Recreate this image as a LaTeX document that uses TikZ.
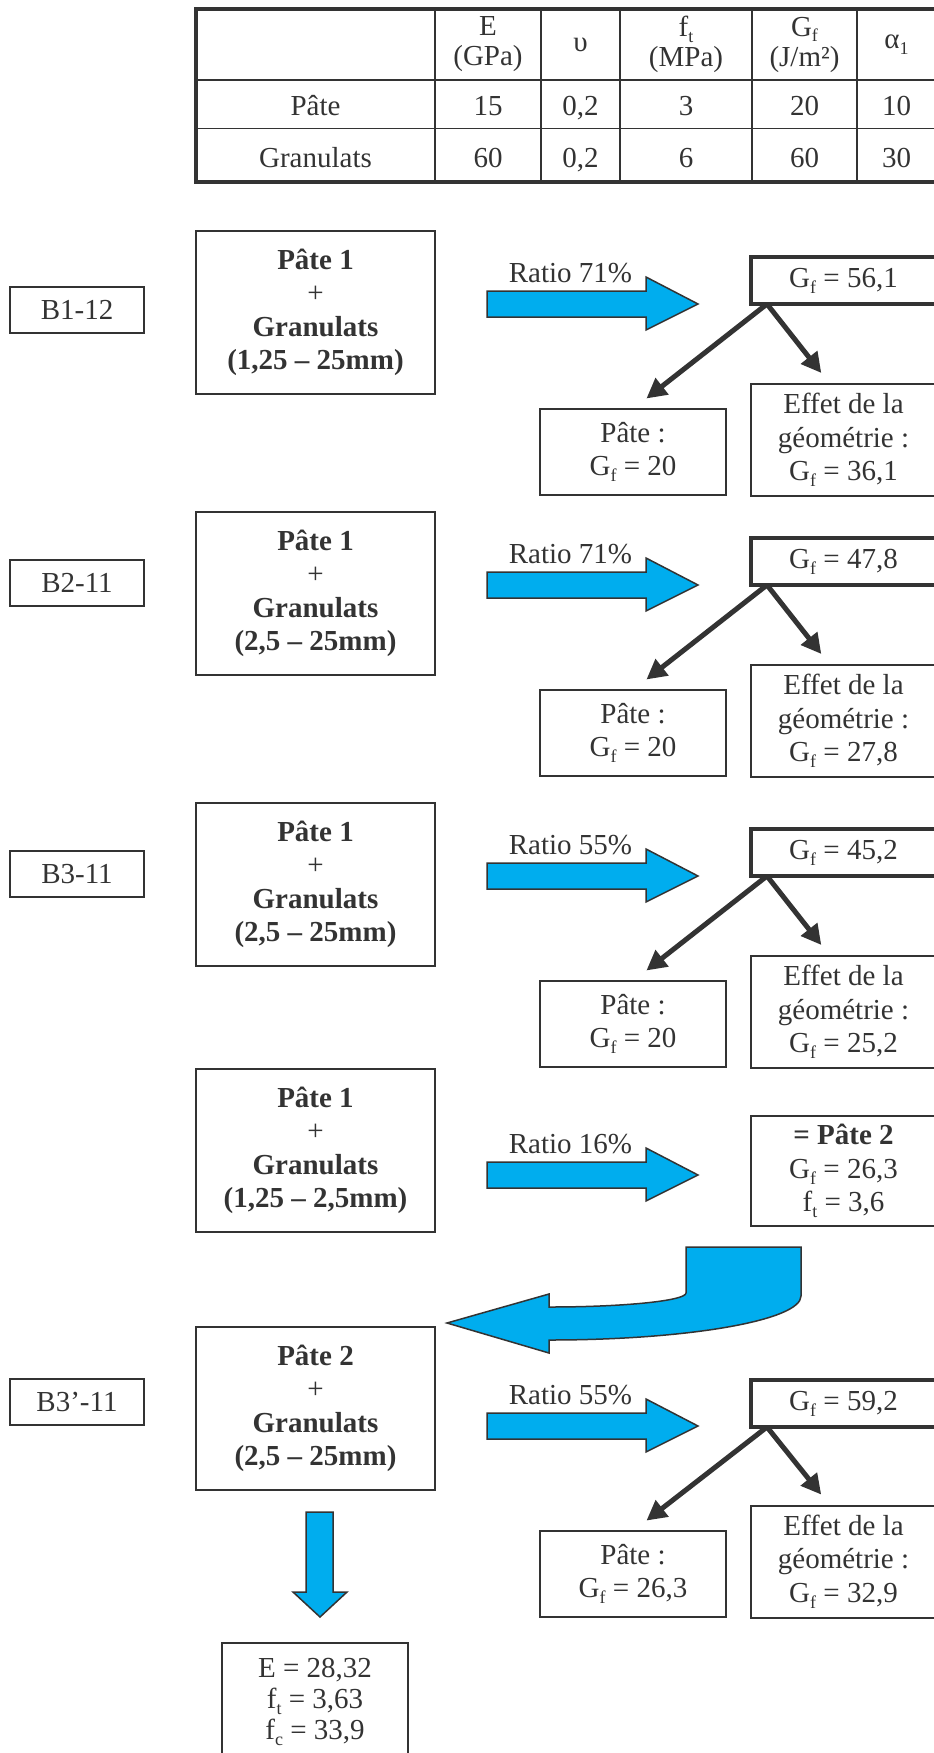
\documentclass[tikz,border=0pt]{standalone}
\usepackage{fontspec}
\setmainfont{Liberation Serif}
\usetikzlibrary{arrows.meta}
\definecolor{ink}{HTML}{333333}
\definecolor{cyanfill}{HTML}{00ADEE}
\newcommand\sbs[1]{\raisebox{-0.2em}{\fontsize{18}{18}\selectfont #1}}
\newcommand\barrow[1]{\draw[bluearrow] (487,#1) -- (646,#1) -- (646,#1-14) -- (698,#1+13) -- (646,#1+39) -- (646,#1+26) -- (487,#1+26) -- cycle;}
\begin{document}
\begin{tikzpicture}[x=1pt,y=-1pt,
  every node/.style={inner sep=0pt,outer sep=0pt,text=ink,font=\fontsize{29}{33.5}\selectfont},
  lab/.style={draw=ink,line width=2pt,minimum width=134pt,minimum height=46pt},
  mainb/.style={draw=ink,line width=2pt,minimum width=239pt,minimum height=163pt,align=center},
  gfb/.style={draw=ink,line width=4pt,minimum width=185pt,minimum height=47pt},
  pab/.style={draw=ink,line width=2pt,minimum width=186pt,minimum height=86pt,align=center},
  effb/.style={draw=ink,line width=2pt,minimum width=185pt,minimum height=112pt,align=center},
  hdr/.style={align=center,font=\fontsize{29}{30}\selectfont},
  cell/.style={anchor=base},
  ratio/.style={anchor=base},
  blk/.style={draw=ink,line width=5pt,-{Triangle[length=20pt,width=20pt]}},
  bluearrow/.style={fill=cyanfill,draw=ink,line width=1.5pt,line join=miter}]
\useasboundingbox (0,0) rectangle (934,1753);
\clip (0,0) rectangle (934,1753);
% ---------- table ----------
\draw[ink,line width=1.8pt] (435,9) -- (435,182) (541,9) -- (541,182) (620,9) -- (620,182)
  (752,9) -- (752,182) (857,9) -- (857,182) (196,80) -- (936,80) (196,128.5) -- (936,128.5);
\draw[ink,line width=4pt] (196,9) rectangle (936,182);
\node[hdr] (hE) at (488,44.5) {E\\(GPa)};
\node[hdr] (hnu) at (580.5,44.5) {υ};
\node[hdr] (hft) at (686,44.5) {f\sbs{t}\\(MPa)};
\node[hdr] (hGf) at (804.5,44.5) {G\sbs{f}\\(J/m²)};
\node[hdr] (hal) at (896.5,44.5) {α\sbs{1}};
\node[cell] (rP) at (315.5,115) {Pâte};
\node[cell] (rP1) at (488,115) {15};
\node[cell] (rP2) at (580.5,115) {0,2};
\node[cell] (rP3) at (686,115) {3};
\node[cell] (rP4) at (804.5,115) {20};
\node[cell] (rP5) at (896.5,115) {10};
\node[cell] (rG) at (315.5,167) {Granulats};
\node[cell] (rG1) at (488,167) {60};
\node[cell] (rG2) at (580.5,167) {0,2};
\node[cell] (rG3) at (686,167) {6};
\node[cell] (rG4) at (804.5,167) {60};
\node[cell] (rG5) at (896.5,167) {30};
% ---------- block 1 ----------
\node[lab] (lab1) at (77,310) {B1-12};
\node[mainb] (m1) at (315.5,312.5) {\textbf{Pâte 1}\\+\\\textbf{Granulats}\\\textbf{(1,25 – 25mm)}};
\barrow{291}
\node[ratio] (r1) at (570.5,282.5) {Ratio 71\%};
\node[gfb] (g1) at (843.5,280.5) {G\sbs{f} = 56,1};
\node[pab] (pa1) at (633,452) {Pâte :\\G\sbs{f} = 20};
\node[effb] (ef1) at (843.5,440) {Effet de la\\géométrie :\\G\sbs{f} = 36,1};
\draw[blk,shorten >=17pt] ([xshift=16pt]g1.south west) -- (pa1.north);
\draw[blk,shorten >=14pt] ([xshift=16pt]g1.south west) -- ([xshift=-13.5pt]ef1.north);
% ---------- block 2 ----------
\node[lab] (lab2) at (77,583) {B2-11};
\node[mainb] (m2) at (315.5,593.5) {\textbf{Pâte 1}\\+\\\textbf{Granulats}\\\textbf{(2,5 – 25mm)}};
\barrow{572}
\node[ratio] (r2) at (570.5,563.5) {Ratio 71\%};
\node[gfb] (g2) at (843.5,561.5) {G\sbs{f} = 47,8};
\node[pab] (pa2) at (633,733) {Pâte :\\G\sbs{f} = 20};
\node[effb] (ef2) at (843.5,721) {Effet de la\\géométrie :\\G\sbs{f} = 27,8};
\draw[blk,shorten >=17pt] ([xshift=16pt]g2.south west) -- (pa2.north);
\draw[blk,shorten >=14pt] ([xshift=16pt]g2.south west) -- ([xshift=-13.5pt]ef2.north);
% ---------- block 3 ----------
\node[lab] (lab3) at (77,874) {B3-11};
\node[mainb] (m3) at (315.5,884.5) {\textbf{Pâte 1}\\+\\\textbf{Granulats}\\\textbf{(2,5 – 25mm)}};
\barrow{863}
\node[ratio] (r3) at (570.5,854.5) {Ratio 55\%};
\node[gfb] (g3) at (843.5,852.5) {G\sbs{f} = 45,2};
\node[pab] (pa3) at (633,1024) {Pâte :\\G\sbs{f} = 20};
\node[effb] (ef3) at (843.5,1012) {Effet de la\\géométrie :\\G\sbs{f} = 25,2};
\draw[blk,shorten >=17pt] ([xshift=16pt]g3.south west) -- (pa3.north);
\draw[blk,shorten >=14pt] ([xshift=16pt]g3.south west) -- ([xshift=-13.5pt]ef3.north);
% ---------- block 4 ----------
\node[mainb] (m4) at (315.5,1150.5) {\textbf{Pâte 1}\\+\\\textbf{Granulats}\\\textbf{(1,25 – 2,5mm)}};
\barrow{1162}
\node[ratio] (r4) at (570.5,1153) {Ratio 16\%};
\node[draw=ink,line width=2pt,minimum width=185pt,minimum height=110pt,align=center] (p2) at (843.5,1171)
  {\textbf{= Pâte 2}\\G\sbs{f} = 26,3\\f\sbs{t} = 3,6};
% curved arrow
\draw[bluearrow] (686,1247) -- (801,1247) -- (801,1296)
  .. controls (801,1320.3) and (688.1,1340) .. (549,1340)
  -- (549,1353) -- (447,1323) -- (549,1294) -- (549,1307)
  .. controls (624.6,1307) and (686,1300.7) .. (686,1293) -- cycle;
% ---------- block 5 ----------
\node[lab] (lab5) at (77,1402) {B3’-11};
\node[mainb] (m5) at (315.5,1408.5) {\textbf{Pâte 2}\\+\\\textbf{Granulats}\\\textbf{(2,5 – 25mm)}};
\barrow{1413}
\node[ratio] (r5) at (570.5,1404.5) {Ratio 55\%};
\node[gfb] (g5) at (843.5,1403.5) {G\sbs{f} = 59,2};
\node[pab] (pa5) at (633,1574) {Pâte :\\G\sbs{f} = 26,3};
\node[effb] (ef5) at (843.5,1561.5) {Effet de la\\géométrie :\\G\sbs{f} = 32,9};
\draw[blk,shorten >=17pt] ([xshift=16pt]g5.south west) -- (pa5.north);
\draw[blk,shorten >=14pt] ([xshift=16pt]g5.south west) -- ([xshift=-13.5pt]ef5.north);
% down arrow
\draw[bluearrow] (306,1512) -- (333,1512) -- (333,1592) -- (347,1592) -- (320,1617) -- (293,1592) -- (306,1592) -- cycle;
\node[draw=ink,line width=2pt,minimum width=186pt,inner ysep=15pt,anchor=north,align=center,
  font=\fontsize{29}{31}\selectfont] (res) at (315,1643)
  {E = 28,32\\f\sbs{t} = 3,63\\f\sbs{c} = 33,9};
\end{tikzpicture}
\end{document}
